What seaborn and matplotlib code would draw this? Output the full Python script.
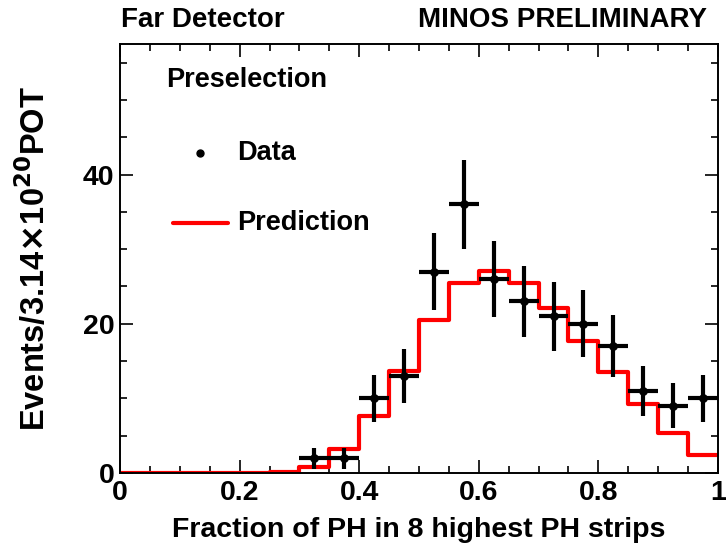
import numpy as np
import pandas as pd
import matplotlib
matplotlib.use("Agg")
import matplotlib.pyplot as plt
import seaborn as sns
from matplotlib.ticker import MultipleLocator

# Bin edges of the PH fraction variable (20 bins of 0.05)
bin_edges = [0.0, 0.05, 0.1, 0.15, 0.2, 0.25, 0.3, 0.35, 0.4, 0.45, 0.5,
             0.55, 0.6, 0.65, 0.7, 0.75, 0.8, 0.85, 0.9, 0.95, 1.0]

# Predicted events per bin
prediction = [0.0, 0.0, 0.0, 0.0, 0.05, 0.1, 0.8, 3.2, 7.6, 13.7,
              20.5, 25.5, 27.1, 25.5, 22.1, 17.7, 13.5, 9.2, 5.4, 2.4]

# Observed events per bin
data_counts = [0, 0, 0, 0, 0, 0, 2, 2, 10, 13,
               27, 36, 26, 23, 21, 20, 17, 11, 9, 10]

x_tick_labels = ["0", "0.2", "0.4", "0.6", "0.8", "1"]

edges = np.array(bin_edges)
centers = (edges[:-1] + edges[1:]) / 2
hist_df = pd.DataFrame({"frac": centers, "events": prediction})
data_df = pd.DataFrame({"frac": centers, "events": data_counts})
data_df = data_df[data_df["events"] > 0]

sns.set_theme(style="ticks")
plt.rcParams["font.family"] = ["Liberation Sans", "DejaVu Sans"]
plt.rcParams["font.weight"] = "bold"
plt.rcParams["mathtext.default"] = "bf"
plt.rcParams["text.color"] = "black"
plt.rcParams["axes.labelcolor"] = "black"

fig = plt.figure(figsize=(7.27, 5.5), dpi=100)
ax = fig.add_axes([120 / 727, 77 / 550, 598 / 727, 429 / 550])

# Prediction histogram
sns.histplot(data=hist_df, x="frac", weights="events", bins=bin_edges,
             element="step", fill=False, color="#ff0000", linewidth=3.0, ax=ax)

# Data points with Poisson errors
ax.errorbar(data_df["frac"], data_df["events"], xerr=0.025,
            yerr=np.sqrt(data_df["events"]), fmt="none", ecolor="black",
            elinewidth=3.0, capsize=0, zorder=4)
sns.scatterplot(data=data_df, x="frac", y="events", color="black", s=40,
                edgecolor="black", linewidth=0, ax=ax, zorder=5)

ax.set_xlim(0, 1)
ax.set_ylim(0, 57.5)
ax.xaxis.set_minor_locator(MultipleLocator(0.05))
ax.yaxis.set_major_locator(MultipleLocator(20))
ax.yaxis.set_minor_locator(MultipleLocator(5))
ax.set_xticks([0, 0.2, 0.4, 0.6, 0.8, 1.0])
ax.set_xticklabels(x_tick_labels)
ax.tick_params(which="both", direction="in", top=True, right=True,
               width=1.2, colors="black", labelsize=20.5)
ax.tick_params(which="major", length=9.5)
ax.tick_params(which="minor", length=5)
ax.tick_params(axis="y", which="major", pad=4)
ax.tick_params(axis="x", which="major", pad=5)
for lab in ax.get_xticklabels() + ax.get_yticklabels():
    lab.set_fontweight("bold")
for s in ax.spines.values():
    s.set_linewidth(1.4)
    s.set_color("black")

ax.set_xlabel("Fraction of PH in 8 highest PH strips", fontsize=20.5,
              fontweight="bold", labelpad=8)
ax.set_ylabel(r"Events/3.14$\times$10$^{20}$POT", fontsize=23.5,
              fontweight="bold", labelpad=22)


def px(x, y):
    return x / 727, (550 - y) / 550


# Legend
fig.text(*px(166, 80), "Preselection", fontsize=19.5, fontweight="bold",
         va="center", ha="left")
fig.lines.append(plt.Line2D([200 / 727], [(550 - 153) / 550], marker="o",
                            color="black", markersize=5,
                            transform=fig.transFigure))
fig.text(*px(237, 153), "Data", fontsize=19.5, fontweight="bold", va="center")
fig.lines.append(plt.Line2D([173 / 727, 228 / 727], [(550 - 223) / 550] * 2,
                            color="#ff0000", linewidth=3,
                            transform=fig.transFigure))
fig.text(*px(237, 223), "Prediction", fontsize=19.5, fontweight="bold",
         va="center")

# Header labels
fig.text(*px(121, 20), "Far Detector", fontsize=20, fontweight="bold",
         va="center", ha="left")
fig.text(*px(707, 20), "MINOS PRELIMINARY", fontsize=20, fontweight="bold",
         va="center", ha="right")

fig.savefig("out.png", dpi=100)
